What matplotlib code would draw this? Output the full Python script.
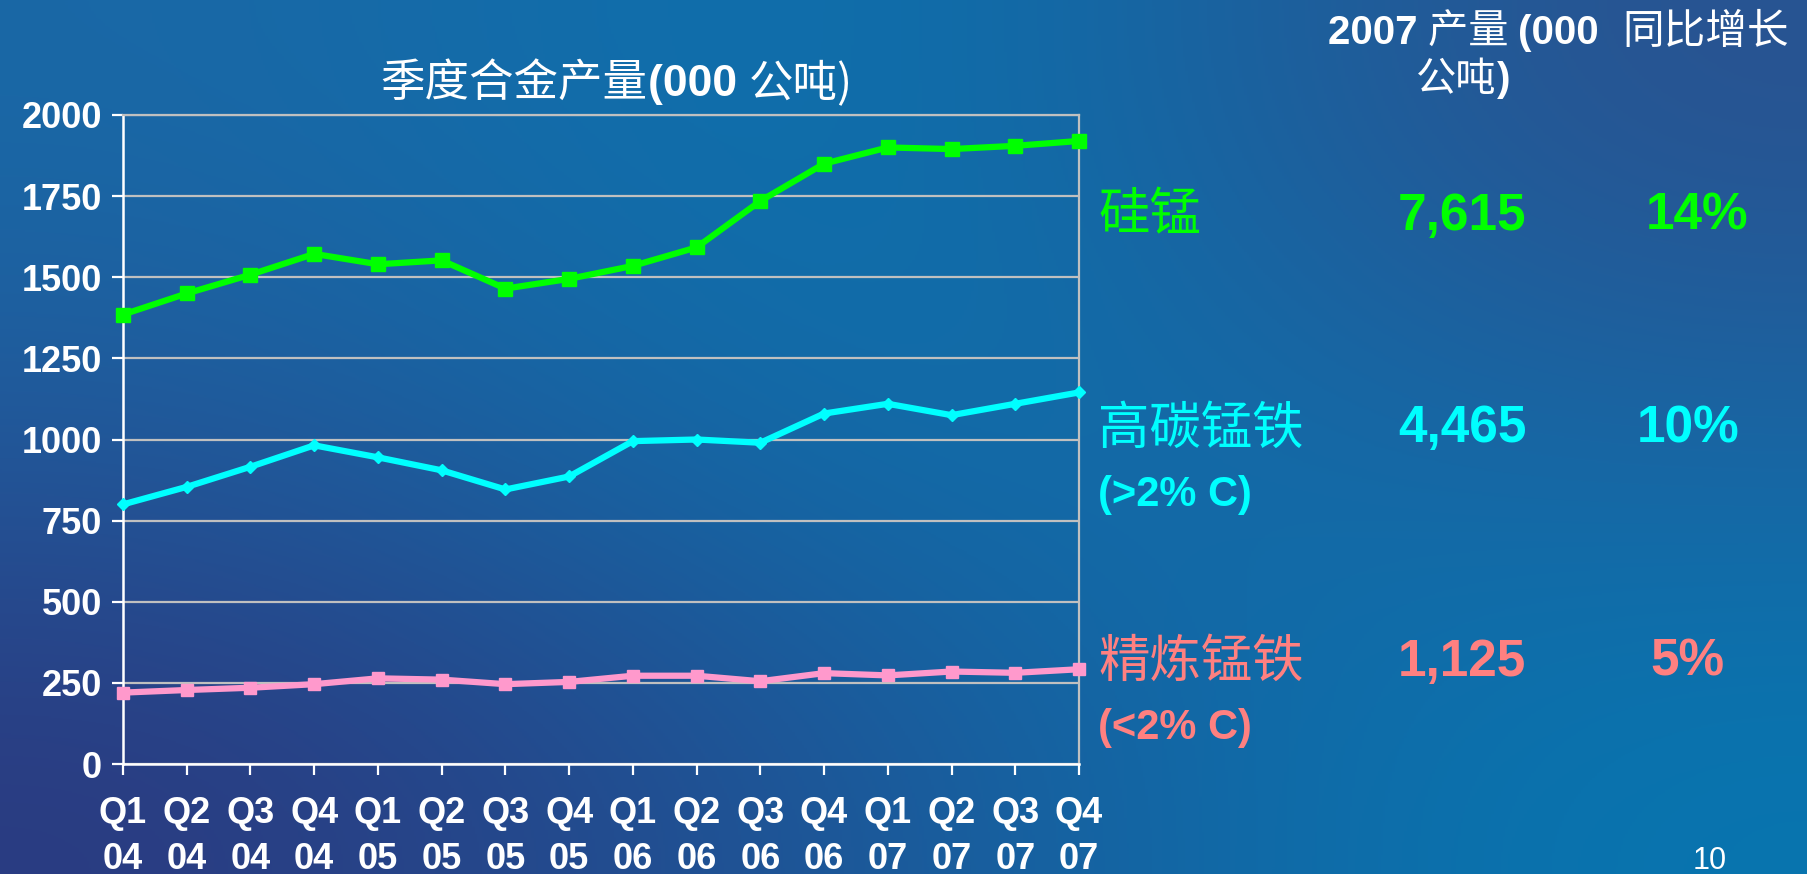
import numpy as np
import matplotlib
matplotlib.use("Agg")
import matplotlib.pyplot as plt
from matplotlib.colors import to_rgb

# quarterly alloy output, 000 tonnes
quarters = ["Q1", "Q2", "Q3", "Q4"] * 4
years = ["04"] * 4 + ["05"] * 4 + ["06"] * 4 + ["07"] * 4
simn = [1385, 1450, 1508, 1572, 1540, 1552, 1465, 1495,
        1535, 1592, 1735, 1850, 1900, 1895, 1905, 1920]
hc_femn = [800, 854, 916, 982, 945, 905, 846, 886,
           995, 1000, 990, 1080, 1110, 1075, 1110, 1145]
ref_femn = [220, 228, 235, 246, 264, 260, 246, 253,
            272, 272, 255, 280, 273, 285, 281, 292]

alloy_names = ["硅锰", "高碳锰铁", "精炼锰铁"]
alloy_notes = ["", "(>2% C)", "(<2% C)"]
output_2007 = ["7,615", "4,465", "1,125"]
growth_yoy = ["14%", "10%", "5%"]
colors = ["#00ff00", "#00ffff", "#ff8080"]
line_colors = ["#00ff00", "#00ffff", "#ff99cc"]

W, H = 1807, 874
LATIN = ["Liberation Sans", "DejaVu Sans"]
CJK = ["Noto Sans CJK SC", "DejaVu Sans"]
plt.rcParams["font.family"] = ["Liberation Sans", "Noto Sans CJK SC", "DejaVu Sans"]


def px(x, y):
    return x / W, 1 - y / H


fig = plt.figure(figsize=(W / 100, H / 100), dpi=100)
renderer = fig.canvas.get_renderer()


def rich_text(xc, yb, parts, size, color="white"):
    """Centre a run of (text, is_latin) pieces on xc, baseline at yb (pixels)."""
    pieces = []
    for s, latin in parts:
        t = fig.text(0, 0, s, fontsize=size, color=color, va="baseline",
                     family=LATIN if latin else CJK,
                     fontweight="bold" if latin else "normal")
        pieces.append((t, t.get_window_extent(renderer).width))
    x0 = xc - sum(w for _, w in pieces) / 2
    for t, w in pieces:
        t.set_position(px(x0, yb))
        x0 += w


# slide background gradient
grid = [["#1a68a6", "#0874b0", "#2a5290"],
        ["#22589a", "#0c73ae", "#1a65a3"],
        ["#2b3a80", "#1c5b9c", "#0776b0"]]
bg = fig.add_axes([0, 0, 1, 1], zorder=-10)
bg.imshow(np.array([[to_rgb(c) for c in row] for row in grid]),
          extent=[0, 1, 0, 1], aspect="auto", interpolation="bicubic")
bg.axis("off")

ax = fig.add_axes([123 / W, 1 - 764 / H, (1079 - 123) / W, (764 - 115) / H])
ax.set_facecolor("none")

x = np.arange(len(quarters))
ax.plot(x, simn, color=line_colors[0], lw=4.5, marker="s", ms=9.5, clip_on=False, zorder=5)
ax.plot(x, hc_femn, color=line_colors[1], lw=4.5, marker="D", ms=6, clip_on=False, zorder=5)
ax.plot(x, ref_femn, color=line_colors[2], lw=4.5, marker="s", ms=9, clip_on=False, zorder=5)

ax.set_xlim(0, len(quarters) - 1)
ax.set_ylim(0, 2000)
ax.set_yticks(np.arange(0, 2001, 250))
ax.set_xticks(x)
ax.set_xticklabels([f"{q}\n{y}" for q, y in zip(quarters, years)])
ax.grid(axis="y", color="#c0c0c0", lw=1.6)
ax.set_axisbelow(True)
for side in ["left", "bottom"]:
    ax.spines[side].set_color("white")
    ax.spines[side].set_linewidth(1.8)
for side in ["top", "right"]:
    ax.spines[side].set_color("#c0c0c0")
    ax.spines[side].set_linewidth(1.6)
ax.tick_params(colors="white", length=8, width=1.6, direction="out")
ax.tick_params(axis="y", labelsize=26, pad=7)
ax.tick_params(axis="x", labelsize=26, pad=15)
for lab in ax.get_yticklabels() + ax.get_xticklabels():
    lab.set_fontweight("bold")
    lab.set_fontfamily(LATIN)
for lab in ax.get_xticklabels():
    lab.set_linespacing(1.4)

# chart title
rich_text(617, 96, [("季度合金产量", False), ("(000 ", True), ("公吨)", False)], 32)

# table header on the right
rich_text(1463, 44, [("2007 ", True), ("产量 ", False), ("(000", True)], 29)
rich_text(1463, 91, [("公吨", False), (")", True)], 29)
rich_text(1706, 44, [("同比增长", False)], 30)

rows_y = [216, 429, 662]
pct_x = [1697, 1688, 1687]
for i in range(3):
    fig.text(*px(1098, rows_y[i]), alloy_names[i], ha="left", va="center",
             fontsize=37, color=colors[i], family=CJK)
    if alloy_notes[i]:
        fig.text(*px(1098, rows_y[i] + 66), alloy_notes[i], ha="left", va="center",
                 fontsize=30, color=colors[i], fontweight="bold", family=LATIN)
    fig.text(*px(1462, rows_y[i]), output_2007[i], ha="center", va="center",
             fontsize=37, color=colors[i], fontweight="bold", family=LATIN)
    fig.text(*px(pct_x[i], rows_y[i]), growth_yoy[i], ha="center", va="center",
             fontsize=37, color=colors[i], fontweight="bold", family=LATIN)

# slide number, sitting on the bottom edge
fig.text(*px(1710, 846), "10", ha="center", va="top", fontsize=22, color="white",
         family=LATIN)

fig.savefig("out.png", dpi=100)
